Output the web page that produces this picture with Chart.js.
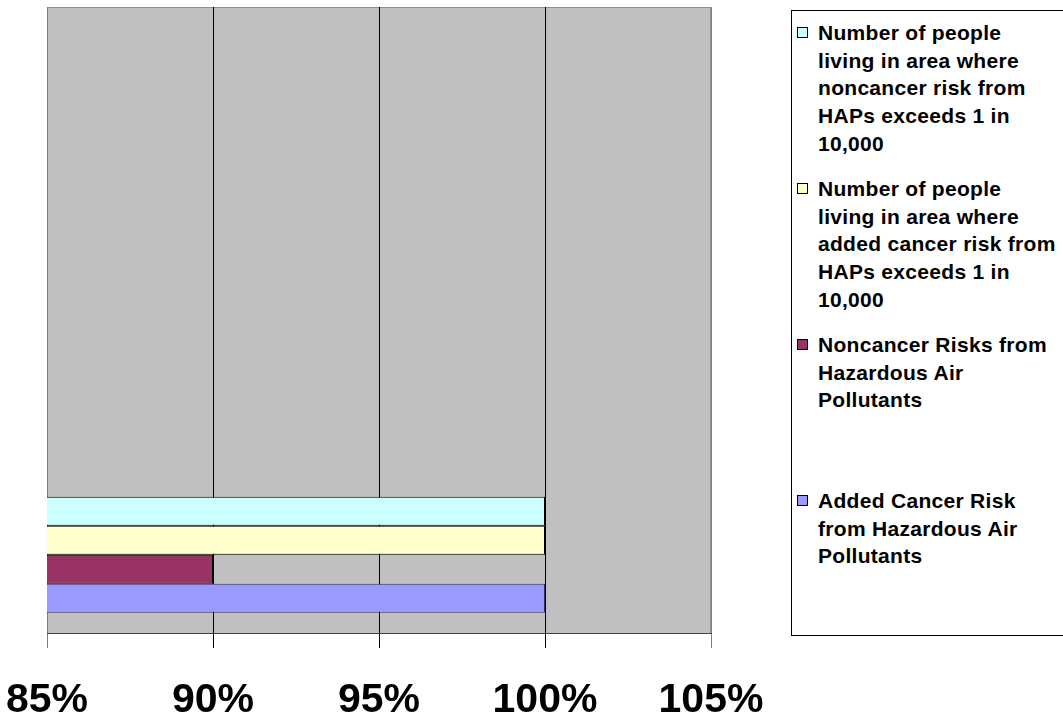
<!DOCTYPE html>
<html lang="en">
<head>
  <meta charset="UTF-8">
  <title>Hazardous Air Pollutant Risks</title>
  <script src="https://cdn.jsdelivr.net/npm/chart.js"></script>
  <style>
    body { margin: 0; background: #fff; font-family: "Liberation Sans", Arial, sans-serif; }
    #wrap { position: relative; width: 1063px; height: 719px; overflow: hidden; }
    #legend {
      position: absolute; left: 791px; top: 10px; width: 320px; height: 624px;
      border: 1px solid #000; background: #fff;
    }
    .item { position: relative; height: 156px; padding-top: 9px; box-sizing: border-box; }
    .box { position: absolute; left: 5px; top: 16px; width: 9px; height: 9px; border: 1px solid #000; }
    .txt { position: absolute; left: 26px; top: 8px; font-weight: bold; font-size: 21px;
           letter-spacing: 0.3px; line-height: 27.7px; white-space: nowrap; color: #000; }
  </style>
</head>
<body>
  <div id="wrap">
    <canvas id="chart" width="1063" height="719"></canvas>
    <div id="legend"></div>
  </div>

  <script>
    // one group of bars, sitting in the last of four category slots
    const categories = ['', '', '', ''];
    const seriesNames = [
      ['Number of people', 'living in area where', 'noncancer risk from', 'HAPs exceeds 1 in', '10,000'],
      ['Number of people', 'living in area where', 'added cancer risk from', 'HAPs exceeds 1 in', '10,000'],
      ['Noncancer Risks from', 'Hazardous Air', 'Pollutants'],
      ['Added Cancer Risk', 'from Hazardous Air', 'Pollutants']
    ];
    const noncancerPeople = [null, null, null, 100];
    const cancerPeople = [null, null, null, 100];
    const noncancerRisk = [null, null, null, 90];
    const cancerRisk = [null, null, null, 100];
    const xTicks = [85, 90, 95, 100, 105];

    const colors = ['#CCFFFF', '#FFFFCC', '#993366', '#9999FF'];
    const borders = ['#000', '#000', '#000', '#333366'];
    const seriesData = [noncancerPeople, cancerPeople, noncancerRisk, cancerRisk];

    const plotBg = {
      id: 'plotBg',
      beforeDraw(chart) {
        const { ctx, chartArea: a } = chart;
        ctx.save();
        ctx.fillStyle = '#C0C0C0';
        ctx.fillRect(a.left, a.top, a.right - a.left, a.bottom - a.top);
        ctx.strokeStyle = '#909090';
        ctx.lineWidth = 1;
        ctx.strokeRect(a.left + 0.5, a.top + 0.5, a.right - a.left - 1, a.bottom - a.top);
        ctx.restore();
      }
    };

    new Chart(document.getElementById('chart'), {
      type: 'bar',
      data: {
        labels: categories,
        datasets: seriesData.map((d, i) => ({
          label: seriesNames[i].join(' '),
          data: d,
          backgroundColor: colors[i],
          borderColor: borders[i],
          borderWidth: 1,
          borderSkipped: false,
          categoryPercentage: 0.74,
          barPercentage: 1
        }))
      },
      options: {
        indexAxis: 'y',
        responsive: false,
        animation: false,
        layout: { padding: { left: 47, right: 352, top: 7, bottom: 0 } },
        plugins: { legend: { display: false }, tooltip: { enabled: false } },
        scales: {
          y: { display: false },
          x: {
            min: 85, max: 105,
            afterBuildTicks: s => { s.ticks = xTicks.map(v => ({ value: v })); },
            afterFit: s => { s.height = 86; s.paddingLeft = 0; s.paddingRight = 0; },
            grid: {
              color: c => (c.tick && (c.tick.value === 85 || c.tick.value === 105)) ? '#808080' : '#000',
              tickColor: c => (c.tick && (c.tick.value === 85 || c.tick.value === 105)) ? '#808080' : '#000',
              tickLength: 15,
              lineWidth: 1
            },
            border: { display: true, color: '#404040' },
            ticks: {
              padding: 32,
              color: '#000',
              maxRotation: 0,
              font: { family: '"Liberation Sans", Arial, sans-serif', size: 41, weight: 'bold', lineHeight: 1 },
              callback: v => v + '%'
            }
          }
        }
      },
      plugins: [plotBg]
    });

    // legend, drawn in the same order as the bars
    const legend = document.getElementById('legend');
    seriesNames.forEach((lines, i) => {
      const item = document.createElement('div');
      item.className = 'item';
      item.innerHTML = `<div class="box" style="background:${colors[i]}"></div>
        <div class="txt">${lines.join('<br>')}</div>`;
      legend.appendChild(item);
    });
  </script>
</body>
</html>
